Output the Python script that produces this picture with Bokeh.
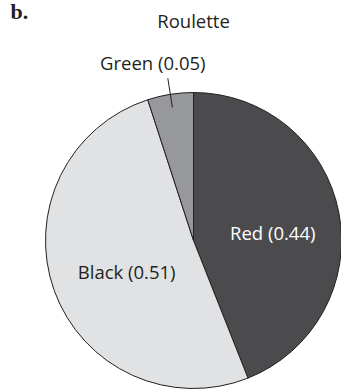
import math
from bokeh.plotting import figure
from bokeh.models import Range1d, Label
from bokeh.core.properties import value
from bokeh.embed import file_html
from bokeh.resources import INLINE

# ---- data ----
categories = ["Red", "Black", "Green"]
probabilities = [0.44, 0.51, 0.05]
label_texts = ["Red (0.44)", "Black (0.51)", "Green (0.05)"]
slice_colors = ["#4b4b4d", "#e1e2e4", "#97989b"]
label_colors = ["#ffffff", "#231f20", "#231f20"]
title_text = "Roulette"
panel_tag = "b."

# ---- layout ----
W, H = 341, 390
CX, CY, R = 193, 150, 148
FONT = "Open Sans"
FSIZE = "18.5px"
INK = "#231f20"

p = figure(width=W, height=H, output_backend="svg", toolbar_location=None,
           x_range=Range1d(0, W), y_range=Range1d(0, H), min_border=0,
           background_fill_color="white", border_fill_color="white")
p.axis.visible = False
p.grid.visible = False
p.outline_line_color = None

# cumulative angles, clockwise from 12 o'clock
starts, ends, mids = [], [], []
cum = 0.0
for v in probabilities:
    a0 = math.pi / 2 - cum * 2 * math.pi
    cum += v
    a1 = math.pi / 2 - cum * 2 * math.pi
    starts.append(a0)
    ends.append(a1)
    mids.append((a0 + a1) / 2)

p.wedge(x=[CX] * len(categories), y=[CY] * len(categories), radius=R,
        start_angle=starts, end_angle=ends, direction="clock",
        fill_color=slice_colors, line_color=INK, line_width=1)

# inside labels (Red, Black)
inside = [0, 1]
label_frac = [0.545, 0.48]
p.text(x=[CX + f * R * math.cos(mids[i]) for i, f in zip(inside, label_frac)],
       y=[CY + f * R * math.sin(mids[i]) for i, f in zip(inside, label_frac)],
       text=[label_texts[i] for i in inside],
       text_color=[label_colors[i] for i in inside],
       text_font=value(FONT), text_font_size=FSIZE,
       text_align="center", text_baseline="middle", y_offset=7)

# outside label with leader line (Green)
g = 2
r0, r1 = 0.91 * R, 1.11 * R
x0, y0 = CX + r0 * math.cos(mids[g]), CY + r0 * math.sin(mids[g])
x1, y1 = CX + r1 * math.cos(mids[g]), CY + r1 * math.sin(mids[g])
p.segment(x0=[x0], y0=[y0], x1=[x1], y1=[y1], line_color=INK, line_width=1)
p.text(x=[x1], y=[y1], text=[label_texts[g]], text_color=[label_colors[g]],
       text_font=value(FONT), text_font_size=FSIZE,
       text_align="center", text_baseline="alphabetic", x_offset=-15, y_offset=-16)

p.add_layout(Label(x=193, y=370, text=title_text, text_font=FONT,
                   text_font_size=FSIZE, text_color=INK,
                   text_align="center", text_baseline="alphabetic"))
p.add_layout(Label(x=10, y=379, text=panel_tag, text_font="Liberation Serif",
                   text_font_style="bold", text_font_size="22px", text_color=INK,
                   text_align="left", text_baseline="alphabetic"))

open("out.html", "w").write(file_html(p, INLINE))
